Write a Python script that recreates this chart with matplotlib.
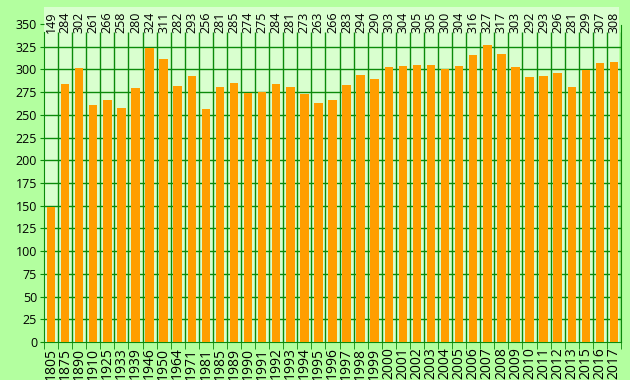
import numpy as np
import matplotlib
matplotlib.use("Agg")
import matplotlib.pyplot as plt
from matplotlib.patches import Rectangle

years = ['1805', '1875', '1890', '1910', '1925', '1933', '1939', '1946', '1950', '1964',
         '1971', '1981', '1985', '1989', '1990', '1991', '1992', '1993', '1994', '1995',
         '1996', '1997', '1998', '1999', '2000', '2001', '2002', '2003', '2004', '2005',
         '2006', '2007', '2008', '2009', '2010', '2011', '2012', '2013', '2015', '2016', '2017']
values = [149, 284, 302, 261, 266, 258, 280, 324, 311, 282,
          293, 256, 281, 285, 274, 275, 284, 281, 273, 263,
          266, 283, 294, 290, 303, 304, 305, 305, 300, 304,
          316, 327, 317, 303, 292, 293, 296, 281, 299, 307, 308]
y_ticks = list(range(0, 351, 25))

outer_bg = '#b3ff9f'
inner_bg = '#d9ffcf'
grid_col = '#0b8a0b'
bar_col = '#ff9e00'

plt.rcParams['font.family'] = ['Open Sans', 'DejaVu Sans']

fig = plt.figure(figsize=(6.3, 3.8), dpi=100, facecolor=outer_bg)
W, H = 630, 380
x0, x1, ytop, ybot = 44, 621, 24, 342
ax = fig.add_axes([x0 / W, 1 - ybot / H, (x1 - x0) / W, (ybot - ytop) / H])
ax.patch.set_visible(False)

# light panel behind the plot and the value labels
fig.patches.append(Rectangle((x0 / W, 1 - ybot / H), (x1 - x0 - 2) / W, (ybot - 7) / H,
                             transform=fig.transFigure, facecolor=inner_bg,
                             edgecolor='none', zorder=-1))

n = len(values)
x = np.arange(n)
ax.bar(x, values, width=0.6, color=bar_col, zorder=3)

ax.set_xlim(-0.5, n - 0.5)
ax.set_ylim(0, 350)

for yv in y_ticks[1:-1]:
    ax.axhline(yv, color=grid_col, lw=1, zorder=2)
ax.vlines(np.arange(n) + 0.5, 0, 341, color=grid_col, lw=1, zorder=2)

for xi, v in zip(x, values):
    ax.text(xi, 351.5, str(v), rotation=90, ha='center', va='center',
            fontsize=9, clip_on=False)

ax.set_xticks(x)
ax.set_xticklabels(years, rotation=90, fontsize=10)
ax.set_xticks(np.arange(n + 1) - 0.5, minor=True)
ax.tick_params(axis='x', which='major', length=0, pad=4)
ax.tick_params(axis='x', which='minor', length=5, color=grid_col)
ax.set_yticks(y_ticks)
ax.set_yticklabels([str(t) for t in y_ticks], fontsize=9)
ax.tick_params(axis='y', length=3, color=grid_col, pad=2)

ax.spines['top'].set_visible(False)
ax.spines['left'].set_bounds(0, 341)
ax.spines['right'].set_bounds(0, 349)
for s in ['left', 'bottom', 'right']:
    ax.spines[s].set_color(grid_col)

fig.savefig('out.png', dpi=100, facecolor=outer_bg)
